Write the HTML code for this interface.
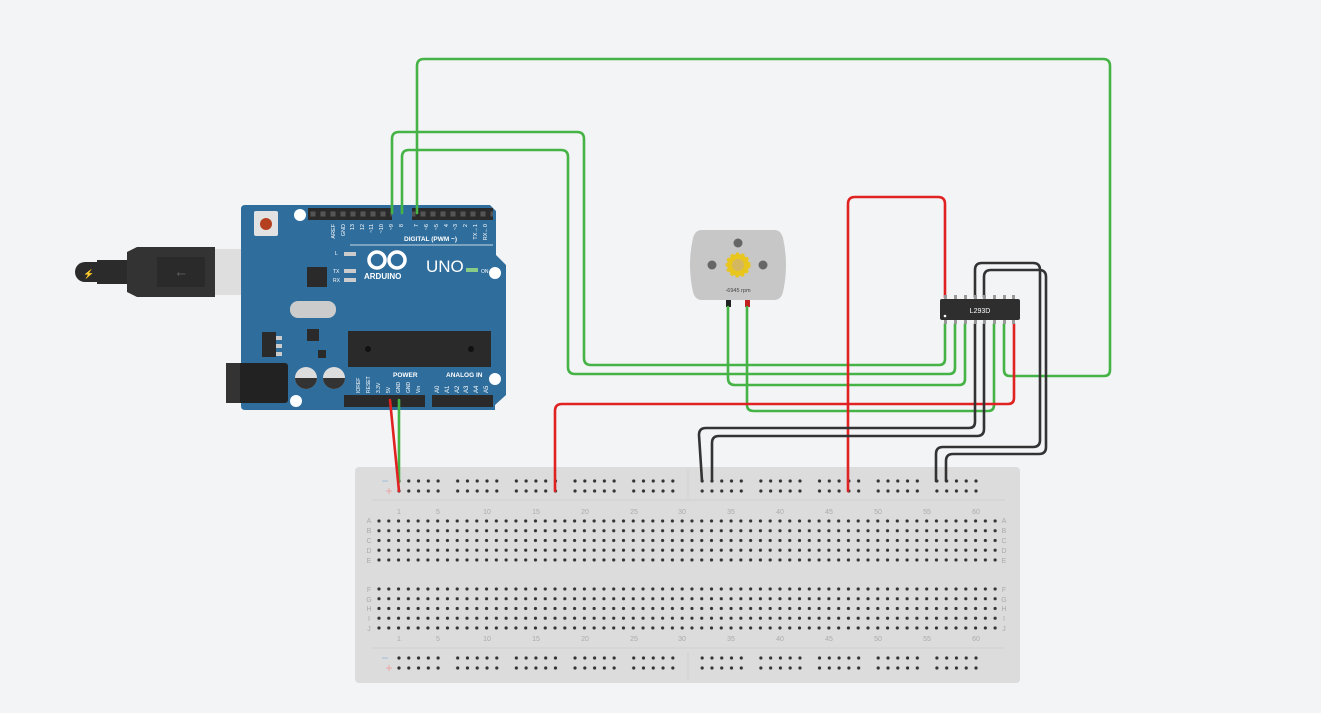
<!DOCTYPE html>
<html><head><meta charset="utf-8"><style>
html,body{margin:0;padding:0;background:#f3f4f6;}
svg{display:block;font-family:"Liberation Sans",sans-serif;}
</style></head><body>
<svg width="1321" height="713" viewBox="0 0 1321 713" xmlns="http://www.w3.org/2000/svg">
<defs>
<pattern id="g" x="374.1" y="516.1" width="9.78" height="9.75" patternUnits="userSpaceOnUse"><circle cx="4.89" cy="4.875" r="1.6" fill="#333"/></pattern>
<pattern id="g2" x="374.1" y="584.1" width="9.78" height="9.75" patternUnits="userSpaceOnUse"><circle cx="4.89" cy="4.875" r="1.6" fill="#333"/></pattern>
<pattern id="r" x="394.1" y="476" width="9.78" height="10" patternUnits="userSpaceOnUse"><circle cx="4.89" cy="5" r="1.6" fill="#333"/></pattern>
<pattern id="r2" x="394.1" y="653" width="9.78" height="10" patternUnits="userSpaceOnUse"><circle cx="4.89" cy="5" r="1.6" fill="#333"/></pattern>
<pattern id="h" x="308" y="208" width="10" height="12" patternUnits="userSpaceOnUse"><rect x="2.5" y="3.5" width="5" height="5" fill="#555"/></pattern>
</defs>
<rect width="1321" height="713" fill="#f3f4f6"/>

<!-- breadboard -->
<rect x="355" y="467" width="665" height="216" rx="4" fill="#dcdcdc"/>
<line x1="372" y1="500" x2="1005" y2="500" stroke="#cfcfcf"/>
<line x1="372" y1="648" x2="1005" y2="648" stroke="#cfcfcf"/>
<line x1="688" y1="470" x2="688" y2="498" stroke="#cfcfcf"/>
<line x1="688" y1="652" x2="688" y2="680" stroke="#cfcfcf"/>
<rect x="374" y="516" width="626" height="49" fill="url(#g)"/>
<rect x="374" y="584" width="626" height="49" fill="url(#g2)"/>
<g fill="url(#r)">
<rect x="394" y="476" width="49" height="20"/><rect x="451" y="476" width="49" height="20"/><rect x="509" y="476" width="49" height="20"/><rect x="568" y="476" width="49" height="20"/><rect x="627" y="476" width="49" height="20"/><rect x="697" y="476" width="49" height="20"/><rect x="754" y="476" width="49" height="20"/><rect x="813" y="476" width="49" height="20"/><rect x="871" y="476" width="49" height="20"/><rect x="930" y="476" width="49" height="20"/>
</g>
<g fill="url(#r2)">
<rect x="394" y="653" width="49" height="20"/><rect x="451" y="653" width="49" height="20"/><rect x="509" y="653" width="49" height="20"/><rect x="568" y="653" width="49" height="20"/><rect x="627" y="653" width="49" height="20"/><rect x="697" y="653" width="49" height="20"/><rect x="754" y="653" width="49" height="20"/><rect x="813" y="653" width="49" height="20"/><rect x="871" y="653" width="49" height="20"/><rect x="930" y="653" width="49" height="20"/>
</g>
<g fill="#9ab8d8" font-size="12"><text x="385" y="485" text-anchor="middle">−</text><text x="385" y="662" text-anchor="middle">−</text></g>
<g fill="#f0a0a0" font-size="12"><text x="389" y="495" text-anchor="middle">+</text><text x="389" y="672" text-anchor="middle">+</text></g>
<g fill="#aaa" font-size="7" text-anchor="middle">
<text x="399" y="514">1</text><text x="438" y="514">5</text><text x="487" y="514">10</text><text x="536" y="514">15</text><text x="585" y="514">20</text><text x="634" y="514">25</text><text x="682" y="514">30</text><text x="731" y="514">35</text><text x="780" y="514">40</text><text x="829" y="514">45</text><text x="878" y="514">50</text><text x="927" y="514">55</text><text x="976" y="514">60</text>
<text x="399" y="641">1</text><text x="438" y="641">5</text><text x="487" y="641">10</text><text x="536" y="641">15</text><text x="585" y="641">20</text><text x="634" y="641">25</text><text x="682" y="641">30</text><text x="731" y="641">35</text><text x="780" y="641">40</text><text x="829" y="641">45</text><text x="878" y="641">50</text><text x="927" y="641">55</text><text x="976" y="641">60</text>
<text x="369" y="523">A</text><text x="369" y="533">B</text><text x="369" y="543">C</text><text x="369" y="553">D</text><text x="369" y="563">E</text>
<text x="369" y="592">F</text><text x="369" y="602">G</text><text x="369" y="611">H</text><text x="369" y="621">I</text><text x="369" y="631">J</text>
<text x="1004" y="523">A</text><text x="1004" y="533">B</text><text x="1004" y="543">C</text><text x="1004" y="553">D</text><text x="1004" y="563">E</text>
<text x="1004" y="592">F</text><text x="1004" y="602">G</text><text x="1004" y="611">H</text><text x="1004" y="621">I</text><text x="1004" y="631">J</text>
</g>

<!-- USB cable -->
<rect x="75" y="262" width="40" height="20" rx="10" fill="#2b2b2b"/>
<text x="83" y="277" font-size="9" fill="#e8c020">⚡</text>
<rect x="97" y="260" width="30" height="24" fill="#2b2b2b"/>
<path d="M127 252 L137 247 L215 247 L215 297 L137 297 L127 292Z" fill="#333"/>
<rect x="157" y="257" width="48" height="30" fill="#2a2a2a"/>
<text x="181" y="277" font-size="12" fill="#555" text-anchor="middle">⭠</text>
<rect x="215" y="249" width="70" height="46" fill="#dedede"/>

<!-- Arduino -->
<path d="M245 205 L490 205 L496 211 L496 255 L506 265 L506 395 L495 405 L495 410 L245 410 Q241 410 241 406 L241 209 Q241 205 245 205Z" fill="#2f6d9c"/>
<rect x="230" y="363" width="58" height="40" rx="3" fill="#222"/>
<rect x="226" y="363" width="14" height="40" fill="#333"/>
<rect x="254" y="211" width="24" height="25" rx="2" fill="#e2e2e2"/>
<circle cx="266" cy="224" r="6" fill="#b5401f"/>
<circle cx="300" cy="215" r="6" fill="#fff"/>
<circle cx="495" cy="273" r="6" fill="#fff"/>
<circle cx="495" cy="379" r="6" fill="#fff"/>
<circle cx="296" cy="401" r="6" fill="#fff"/>
<rect x="308" y="208" width="84" height="12" fill="#2a2a2a"/>
<rect x="412" y="208" width="81" height="12" fill="#2a2a2a"/>
<rect x="344" y="395" width="81" height="12" fill="#2a2a2a"/>
<rect x="432" y="395" width="61" height="12" fill="#2a2a2a"/>
<rect x="308" y="208" width="84" height="12" fill="url(#h)"/>
<rect x="412" y="208" width="81" height="12" fill="url(#h)"/>
<g fill="#fff" font-size="6.5">
<text x="404" y="241" font-weight="bold">DIGITAL (PWM ~)</text>
<text x="393" y="377" font-weight="bold">POWER</text>
<text x="446" y="377" font-weight="bold">ANALOG IN</text>
<text x="364" y="279" font-size="8" font-weight="bold">ARDUINO</text>
<text x="426" y="272" font-size="17">UNO</text>
<text x="481" y="273" font-size="5">ON</text>
<text x="335" y="255" font-size="5">L</text><text x="333" y="273" font-size="5">TX</text><text x="333" y="282" font-size="5">RX</text>
</g>
<g fill="#fff" font-size="5.5" text-anchor="end">
<text transform="translate(335,224) rotate(-90)">AREF</text>
<text transform="translate(345,224) rotate(-90)">GND</text>
<text transform="translate(354,224) rotate(-90)">13</text>
<text transform="translate(364,224) rotate(-90)">12</text>
<text transform="translate(373,224) rotate(-90)">~11</text>
<text transform="translate(383,224) rotate(-90)">~10</text>
<text transform="translate(393,224) rotate(-90)">~9</text>
<text transform="translate(403,224) rotate(-90)">8</text>
<text transform="translate(418,224) rotate(-90)">7</text>
<text transform="translate(428,224) rotate(-90)">~6</text>
<text transform="translate(438,224) rotate(-90)">~5</text>
<text transform="translate(448,224) rotate(-90)">4</text>
<text transform="translate(457,224) rotate(-90)">~3</text>
<text transform="translate(467,224) rotate(-90)">2</text>
<text transform="translate(477,224) rotate(-90)">TX→1</text>
<text transform="translate(487,224) rotate(-90)">RX←0</text>
</g>
<g fill="#fff" font-size="5" text-anchor="start">
<text transform="translate(360,393) rotate(-90)">IOREF</text>
<text transform="translate(370,393) rotate(-90)">RESET</text>
<text transform="translate(380,393) rotate(-90)">3.3V</text>
<text transform="translate(390,393) rotate(-90)">5V</text>
<text transform="translate(400,393) rotate(-90)">GND</text>
<text transform="translate(410,393) rotate(-90)">GND</text>
<text transform="translate(420,393) rotate(-90)">Vin</text>
</g>
<g fill="#fff" font-size="6" text-anchor="start">
<text transform="translate(439,393) rotate(-90)">A0</text>
<text transform="translate(449,393) rotate(-90)">A1</text>
<text transform="translate(459,393) rotate(-90)">A2</text>
<text transform="translate(468,393) rotate(-90)">A3</text>
<text transform="translate(478,393) rotate(-90)">A4</text>
<text transform="translate(488,393) rotate(-90)">A5</text>
</g>
<line x1="350" y1="245" x2="493" y2="245" stroke="#fff" stroke-width="0.7"/>
<g fill="none" stroke="#fff" stroke-width="3.5"><circle cx="377" cy="260" r="8"/><circle cx="397" cy="260" r="8"/></g>
<rect x="344" y="252" width="12" height="4" fill="#ccc"/><rect x="344" y="269" width="12" height="4" fill="#ccc"/><rect x="344" y="278" width="12" height="4" fill="#ccc"/>
<rect x="466" y="268" width="12" height="4" fill="#8c8"/>
<rect x="307" y="267" width="20" height="20" fill="#2a2a2a"/>
<rect x="290" y="301" width="46" height="17" rx="8" fill="#ccc"/>
<rect x="307" y="329" width="12" height="12" fill="#2a2a2a"/>
<rect x="262" y="332" width="14" height="25" fill="#2a2a2a"/>
<rect x="276" y="336" width="6" height="4" fill="#ccc"/><rect x="276" y="344" width="6" height="4" fill="#ccc"/><rect x="276" y="352" width="6" height="4" fill="#ccc"/>
<rect x="318" y="350" width="8" height="8" fill="#2a2a2a"/>
<rect x="348" y="331" width="143" height="36" fill="#2a2a2a"/>
<circle cx="368" cy="349" r="3" fill="#111"/><circle cx="471" cy="349" r="3" fill="#111"/>
<circle cx="306" cy="378" r="11" fill="#ddd"/><path d="M295 378 A11 11 0 0 0 317 378Z" fill="#333"/>
<circle cx="334" cy="378" r="11" fill="#ddd"/><path d="M323 378 A11 11 0 0 0 345 378Z" fill="#333"/>

<!-- motor -->
<path d="M702 230 L774 230 Q781 230 783 238 Q789 265 783 292 Q781 300 774 300 L702 300 Q695 300 693 292 Q687 265 693 238 Q695 230 702 230Z" fill="#c7c7c7"/>
<circle cx="738" cy="243" r="4.5" fill="#666"/><circle cx="712" cy="265" r="4.5" fill="#666"/><circle cx="763" cy="265" r="4.5" fill="#666"/>
<circle cx="738" cy="265" r="11" fill="#e8c61e" stroke="#e8c61e" stroke-width="3" stroke-dasharray="3 2.5"/>
<circle cx="738" cy="265" r="6" fill="#d4b860"/>
<text x="738" y="292" font-size="5.5" fill="#444" text-anchor="middle">-6945 rpm</text>
<rect x="726" y="300" width="5" height="7" fill="#222"/><rect x="745" y="300" width="5" height="7" fill="#c02020"/>

<!-- wires -->
<g fill="none" stroke-width="2.6" stroke-linejoin="round" stroke-linecap="round">
<g stroke="#45b345">
<path d="M417 213 L417 66 Q417 59 424 59 L1103 59 Q1110 59 1110 66 L1110 370 Q1110 376 1104 376 L1010 376 Q1004 376 1004 370 L1004 324"/>
<path d="M392 213 L392 139 Q392 132 399 132 L577 132 Q584 132 584 139 L584 358 Q584 365 591 365 L939 365 Q945 365 945 359 L945 324"/>
<path d="M402 213 L402 157 Q402 150 409 150 L561 150 Q568 150 568 157 L568 367 Q568 374 575 374 L949 374 Q955 374 955 368 L955 324"/>
<path d="M728 307 L728 378 Q728 385 735 385 L959 385 Q965 385 965 379 L965 324"/>
<path d="M747 307 L747 405 Q747 411 754 411 L988 411 Q994 411 994 405 L994 324"/>
<path d="M399 400 L399 482"/>
</g>
<g stroke="#e02222">
<path d="M945 297 L945 204 Q945 197 938 197 L855 197 Q848 197 848 204 L848 491"/>
<path d="M555 491 L555 411 Q555 404 562 404 L1008 404 Q1014 404 1014 398 L1014 324"/>
<path d="M390 400 L399 491"/>
</g>
<g stroke="#333">
<path d="M975 324 L975 422 Q975 428 969 428 L706 428 Q699 428 699 435 L702 481"/>
<path d="M984 324 L984 429 Q984 436 977 436 L719 436 Q712 436 712 443 L712 481"/>
<path d="M975 297 L975 270 Q975 263 982 263 L1033 263 Q1040 263 1040 270 L1040 440 Q1040 447 1033 447 L943 447 Q936 447 936 454 L936 481"/>
<path d="M984 297 L984 277 Q984 270 991 270 L1039 270 Q1046 270 1046 277 L1046 447 Q1046 454 1039 454 L953 454 Q946 454 946 461 L946 481"/>
</g>
</g>

<!-- chip (on top) -->
<g fill="#999"><rect x="944" y="295" width="3" height="4"/><rect x="954" y="295" width="3" height="4"/><rect x="964" y="295" width="3" height="4"/><rect x="974" y="295" width="3" height="4"/><rect x="983" y="295" width="3" height="4"/><rect x="993" y="295" width="3" height="4"/><rect x="1003" y="295" width="3" height="4"/><rect x="1012" y="295" width="3" height="4"/>
<rect x="944" y="320" width="3" height="4"/><rect x="954" y="320" width="3" height="4"/><rect x="964" y="320" width="3" height="4"/><rect x="974" y="320" width="3" height="4"/><rect x="983" y="320" width="3" height="4"/><rect x="993" y="320" width="3" height="4"/><rect x="1003" y="320" width="3" height="4"/><rect x="1012" y="320" width="3" height="4"/></g>
<rect x="940" y="299" width="80" height="21" rx="2" fill="#2e2e2e"/>
<circle cx="945" cy="316" r="1.3" fill="#fff"/>
<text x="980" y="313" font-size="7" fill="#fff" text-anchor="middle">L293D</text>
</svg>
</body></html>
